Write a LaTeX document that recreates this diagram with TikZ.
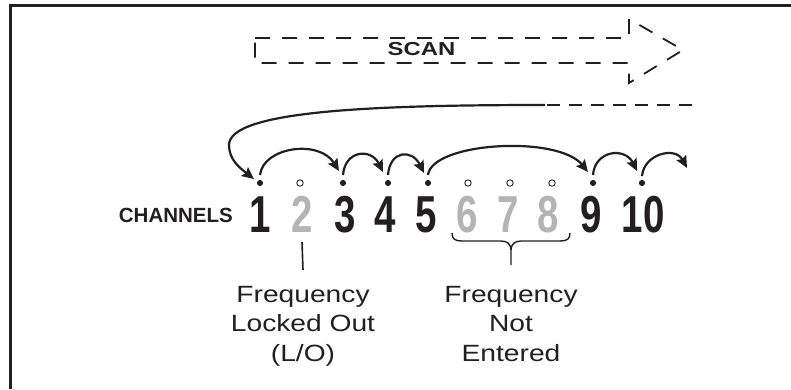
\documentclass[tikz,border=0pt]{standalone}
\usepackage{fontspec}
\setmainfont{Liberation Sans}
\usepackage{graphicx}
\usetikzlibrary{arrows.meta}
\definecolor{ink}{HTML}{231F20}
\definecolor{lightg}{HTML}{B4B4B4}
\newcommand\hstretch[2]{\scalebox{#1}[1]{#2}}
\begin{document}
\begin{tikzpicture}[x=1pt,y=-1pt,
  digit/.style={anchor=base, inner sep=0pt, font=\fontsize{52}{52}\selectfont\bfseries, text=ink},
  gdigit/.style={digit, text=lightg},
  fdot/.style={circle, fill=ink, inner sep=0pt, minimum size=6.2pt},
  hdot/.style={circle, draw=ink, line width=0.9pt, fill=white, inner sep=0pt, minimum size=6.4pt},
  hop/.style={line width=2.2pt, draw=ink, -{Stealth[length=12pt,width=11pt,inset=2pt]}},
  scanline/.style={line width=1.8pt, draw=ink, dash pattern=on 15pt off 12pt},
  retline/.style={line width=1.9pt, draw=ink, dash pattern=on 13pt off 9pt},
  lbl/.style={align=center, inner sep=0pt, anchor=north, font=\fontsize{23.5}{29.5}\selectfont, text=ink}
]
\useasboundingbox (0,0) rectangle (791,389);
% frame
\draw[line width=3.6pt, ink] (10.3,389) -- (10.3,5.6) -- (791,5.6);
% scan arrow
\draw[scanline] (255,38) -- (629,38) -- (629,19) -- (683,50) -- (629,83) -- (629,63) -- (255,63) -- cycle;
\node[anchor=base, inner sep=0pt, font=\fontsize{18.8}{19}\selectfont\bfseries, text=ink] (scan) at (421.5,55) {\hstretch{1.27}{SCAN}};
% channels label
\node[anchor=base east, inner sep=0pt, font=\fontsize{20.5}{21}\selectfont\bfseries, text=ink] (ch) at (233,222) {CHANNELS};
% digits
\node[digit]  (n1)  at (260.5,232) {\hstretch{0.74}{1}};
\node[gdigit] (n2)  at (302,232) {\hstretch{0.74}{2}};
\node[digit]  (n3)  at (345,232) {\hstretch{0.74}{3}};
\node[digit]  (n4)  at (385,232) {\hstretch{0.74}{4}};
\node[digit]  (n5)  at (426,232) {\hstretch{0.74}{5}};
\node[gdigit] (n6)  at (467,232) {\hstretch{0.74}{6}};
\node[gdigit] (n7)  at (508,232) {\hstretch{0.74}{7}};
\node[gdigit] (n8)  at (548,232) {\hstretch{0.74}{8}};
\node[digit]  (n9)  at (591,232) {\hstretch{0.74}{9}};
\node[digit]  (n10) at (643,232) {\hstretch{0.74}{10}};
% dots
\node[fdot] (d1)  at (260,183) {};
\node[hdot] (d2)  at (300,183) {};
\node[fdot] (d3)  at (343,183) {};
\node[fdot] (d4)  at (388,183) {};
\node[fdot] (d5)  at (428,183) {};
\node[hdot] (d6)  at (468,183) {};
\node[hdot] (d7)  at (510,183) {};
\node[hdot] (d8)  at (552,183) {};
\node[fdot] (d9)  at (593,183) {};
\node[fdot] (d10) at (642,183) {};
% hops
\draw[hop] ([yshift=8pt]d1.center) .. controls +(3,-28) and +(-20,-32) .. ([xshift=-4pt,yshift=12pt]d3.center);
\draw[hop] ([yshift=8pt]d3.center) .. controls +(2,-25) and +(-12,-24) .. ([xshift=-5pt,yshift=11pt]d4.center);
\draw[hop] ([yshift=8pt]d4.center) .. controls +(2,-25) and +(-12,-24) .. ([xshift=-4pt,yshift=10pt]d5.center);
\draw[hop] ([yshift=8pt]d5.center) .. controls +(4,-33) and +(-30,-37) .. ([xshift=-5pt,yshift=11pt]d9.center);
\draw[hop] ([yshift=8pt]d9.center) .. controls +(2,-25) and +(-12,-24) .. ([xshift=-5pt,yshift=12pt]d10.center);
\coordinate (nxt) at (687,168);
\draw[hop] ([yshift=7pt]d10.center) .. controls +(2,-22) and +(-12,-22) .. (nxt);
% return arrow
\coordinate (rA) at (692,105);
\coordinate (rB) at (545,105);
\draw[retline] (rA) -- (rB);
\draw[hop] (rB) .. controls (380,105) and (229,110) .. (229,145) .. controls (229,160) and (240,168) .. ([xshift=-6pt,yshift=4pt]d1.center);
% labels
\node[lbl] (lo) at (303,286) {\hstretch{1.2}{Frequency}\\\hstretch{1.2}{Locked Out}\\\hstretch{1.2}{(L/O)}};
\node[lbl] (ne) at (511,286) {\hstretch{1.2}{Frequency}\\\hstretch{1.2}{Not}\\\hstretch{1.2}{Entered}};
\draw[line width=1.6pt, ink] ([yshift=-10pt]n2.base) -- ([yshift=16pt]lo.north);
% brace
\draw[line width=1.4pt, ink] (452,233) .. controls (452,239) and (455,241) .. (462,241) -- (501,241) .. controls (507,241) and (511,244) .. (511,250) -- ([yshift=21pt]ne.north);
\draw[line width=1.4pt, ink] (570,233) .. controls (570,239) and (567,241) .. (560,241) -- (521,241) .. controls (515,241) and (511,244) .. (511,250);
\end{tikzpicture}
\end{document}
